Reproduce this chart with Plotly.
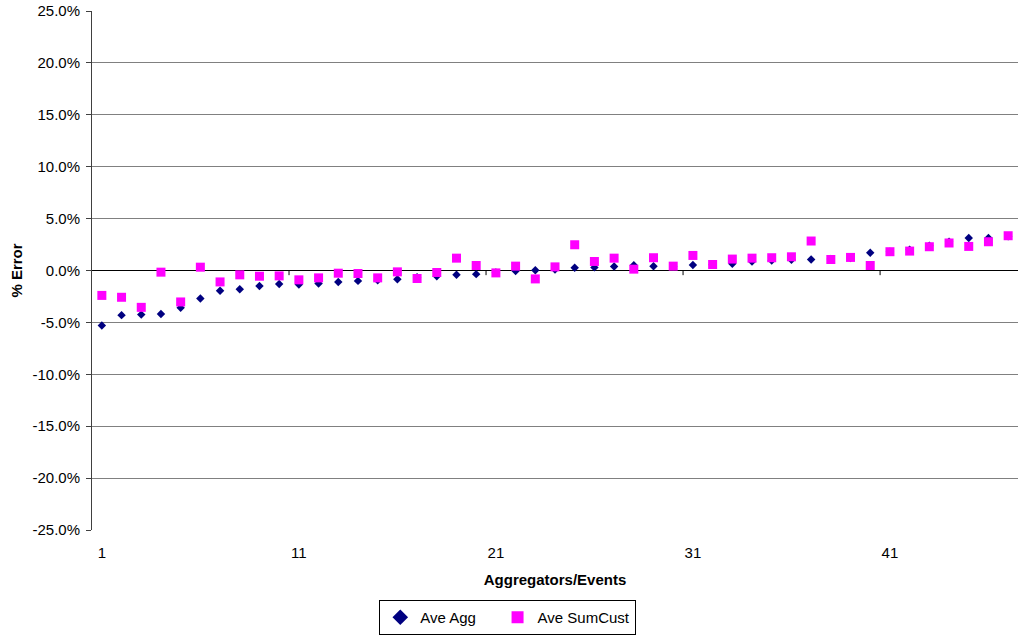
import plotly.graph_objects as go

events = list(range(1, 48))
ave_agg = [-5.3, -4.3, -4.25, -4.2, -3.6, -2.7, -1.95, -1.8, -1.5, -1.3,
           -1.35, -1.25, -1.1, -1.0, -0.95, -0.85, -0.65, -0.55, -0.4, -0.35,
           -0.2, -0.05, 0.03, 0.1, 0.26, 0.3, 0.39, 0.5, 0.4, 0.4,
           0.52, 0.55, 0.65, 0.87, 0.97, 1.03, 1.06, 1.1, 1.2, 1.71,
           1.8, 2.0, 2.39, 2.77, 3.13, 3.13, 3.3]
ave_sumcust = [-2.4, -2.58, -3.55, -0.16, -3.03, 0.32, -1.1, -0.42, -0.55, -0.52,
               -0.9, -0.71, -0.26, -0.29, -0.71, -0.13, -0.77, -0.19, 1.19, 0.48,
               -0.23, 0.42, -0.81, 0.35, 2.48, 0.87, 1.19, 0.13, 1.23, 0.42,
               1.45, 0.58, 1.1, 1.19, 1.23, 1.32, 2.84, 1.06, 1.26, 0.48,
               1.81, 1.87, 2.29, 2.65, 2.32, 2.77, 3.35]
x_tick_vals = [1, 11, 21, 31, 41]
y_tick_vals = [-25, -20, -15, -10, -5, 0, 5, 10, 15, 20, 25]
y_tick_text = ["%.1f%%" % v for v in y_tick_vals]  # hyphen minus like the original

FONT = "Liberation Sans, Arial, sans-serif"

fig = go.Figure()
fig.add_trace(go.Scatter(
    x=events, y=[v / 100 for v in ave_agg], mode="markers",
    name="Ave Agg\u00a0\u00a0\u00a0\u00a0",
    marker=dict(symbol="diamond", size=6.5, color="#000080",
                line=dict(width=0)),
))
fig.add_trace(go.Scatter(
    x=events, y=[v / 100 for v in ave_sumcust], mode="markers", name="Ave SumCust",
    marker=dict(symbol="square", size=9, color="#FF00FF", line=dict(width=0)),
))

# x-axis tick marks on the zero line at category boundaries
for b in [10.5, 20.5, 30.5, 40.5]:
    fig.add_shape(type="line", xref="x", yref="y", x0=b, x1=b, y0=0, y1=-0.0045,
                  line=dict(color="#000000", width=1), layer="below")

fig.update_layout(
    width=1021, height=637,
    margin=dict(l=92, r=3, t=11, b=107, autoexpand=False),
    paper_bgcolor="white", plot_bgcolor="white",
    font=dict(family=FONT, size=15, color="#000000"),
    showlegend=True,
    legend=dict(orientation="h", x=0.449, xanchor="center", y=-0.2023, yanchor="bottom",
                bordercolor="#000000", borderwidth=1, bgcolor="white",
                font=dict(family=FONT, size=15), itemsizing="constant",
                tracegroupgap=0, itemwidth=30),
    xaxis=dict(
        range=[0.5, 47.5], tickmode="array", tickvals=x_tick_vals,
        ticktext=[str(v) for v in x_tick_vals], automargin=False,
        showgrid=False, zeroline=False, showline=False,
        ticks="outside", ticklen=9, tickcolor="rgba(0,0,0,0)",
        title=dict(text="<b>Aggregators/Events</b>", standoff=14,
                   font=dict(family=FONT, size=15)),
        tickfont=dict(family=FONT, size=15),
    ),
    yaxis=dict(
        range=[-0.25, 0.25], tickmode="array", tickvals=[v / 100 for v in y_tick_vals],
        ticktext=y_tick_text, automargin=False,
        showgrid=True, gridcolor="#808080", gridwidth=1,
        zeroline=True, zerolinecolor="#000000", zerolinewidth=1,
        showline=True, linecolor="#404040", linewidth=1,
        ticks="outside", ticklen=5, tickcolor="#404040", ticklabelstandoff=3,
        title=dict(text="<b>% Error</b>", standoff=6,
                   font=dict(family=FONT, size=15)),
        tickfont=dict(family=FONT, size=15),
    ),
)

fig.write_html("out.html", config={"displayModeBar": False},
               post_script="document.body.style.margin='0';")
